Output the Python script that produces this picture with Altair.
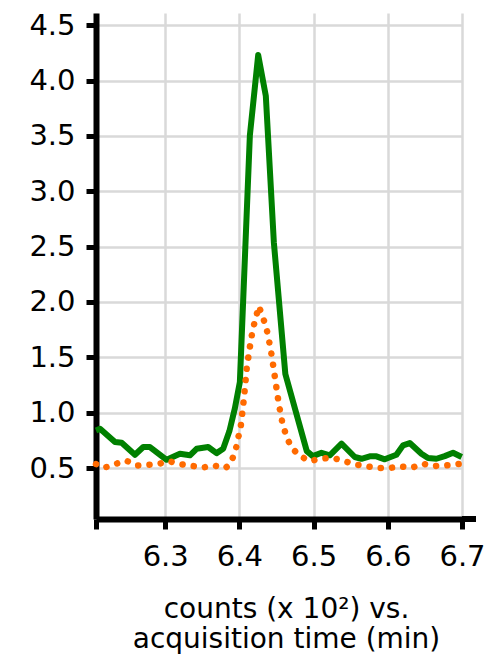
import altair as alt
import pandas as pd

# Green (solid) trace: acquisition time (min), counts (x 10^2)
green_t = [6.2067, 6.2121, 6.2323, 6.2413, 6.2592, 6.2704, 6.2794, 6.3019, 6.3198,
           6.3333, 6.3423, 6.3579, 6.3692, 6.3781, 6.3865, 6.3939, 6.4006, 6.4141,
           6.4253, 6.4356, 6.4464, 6.4619, 6.4908, 6.4989, 6.5106, 6.5218, 6.5376,
           6.5555, 6.5645, 6.5757, 6.5847, 6.5959, 6.6116, 6.6205, 6.6296, 6.6453,
           6.6542, 6.6655, 6.6767, 6.6879, 6.6996]
green_v = [0.84, 0.855, 0.735, 0.728, 0.62, 0.69, 0.69, 0.575, 0.629,
           0.615, 0.674, 0.69, 0.635, 0.674, 0.834, 1.04, 1.277, 3.506,
           4.23, 3.86, 2.54, 1.349, 0.653, 0.608, 0.638, 0.615, 0.72,
           0.6, 0.584, 0.606, 0.606, 0.579, 0.62, 0.705, 0.726, 0.629,
           0.59, 0.584, 0.608, 0.638, 0.6]

# Orange (dotted) trace
orange_t = [6.2067, 6.2178, 6.2471, 6.2619, 6.2902, 6.305, 6.3198, 6.3508, 6.3656,
            6.3811, 6.3885, 6.3952, 6.402, 6.406, 6.41, 6.4147, 6.4181, 6.4262,
            6.4343, 6.4383, 6.4437, 6.4531, 6.4585, 6.4639, 6.4693, 6.4801, 6.4949,
            6.5097, 6.5245, 6.5393, 6.5555, 6.5865, 6.6013, 6.6174, 6.6323, 6.6471,
            6.6619, 6.6774, 6.6929, 6.6996]
orange_v = [0.536, 0.503, 0.568, 0.523, 0.536, 0.563, 0.536, 0.505, 0.523,
            0.5, 0.545, 0.672, 0.888, 1.123, 1.412, 1.62, 1.755, 1.962,
            1.81, 1.71, 1.51, 1.078, 0.888, 0.78, 0.694, 0.615, 0.563,
            0.584, 0.593, 0.568, 0.533, 0.5, 0.5, 0.515, 0.503, 0.539,
            0.518, 0.523, 0.536, 0.54]

x_domain = [6.2067, 6.7]
y_domain = [0.04, 4.61]
x_ticks = [6.2067, 6.3, 6.4, 6.5, 6.6, 6.7]
y_ticks = [0.5, 1.0, 1.5, 2.0, 2.5, 3.0, 3.5, 4.0, 4.5]
x_title = ["counts (x 10\u00b2) vs.", "acquisition time (min)"]

df_g = pd.DataFrame({"t": green_t, "v": green_v})
df_o = pd.DataFrame({"t": orange_t, "v": orange_v})

FONT = "DejaVu Sans"

x_enc = alt.X(
    "t:Q",
    scale=alt.Scale(domain=x_domain, nice=False, zero=False),
    axis=alt.Axis(
        values=x_ticks,
        labelExpr="datum.value < 6.25 ? '' : format(datum.value, '.1f')",
        title=x_title,
        labelPadding=13,
        titleX=190,
        titleY=98,
        titleAlign="center",
        titleBaseline="alphabetic",
        titleLineHeight=30,
        labelFlush=False,
        labelOverlap=False,
    ),
)
y_enc = alt.Y(
    "v:Q",
    scale=alt.Scale(domain=y_domain, nice=False, zero=False),
    axis=alt.Axis(values=y_ticks, format=".1f", title=None, labelPadding=11,
                  labelFlush=False, labelOverlap=False),
)

green = alt.Chart(df_g).mark_line(
    color="#008000", strokeWidth=6, strokeJoin="round"
).encode(x=x_enc, y=y_enc)

orange = alt.Chart(df_o).mark_line(
    color="#ff6a00", strokeWidth=6.5, strokeDash=[0.1, 11.2], strokeCap="round",
    strokeJoin="round"
).encode(x=x_enc, y=y_enc)

axis_ext = alt.Chart(df_g).mark_rule(color="black", strokeWidth=6).encode(
    x=alt.value(366), x2=alt.value(380), y=alt.value(506)
)

chart = alt.layer(green, orange, axis_ext).properties(
    width=366,
    height=506,
    autosize=alt.AutoSizeParams(type="none"),
    padding={"left": 88, "top": 5, "right": 25, "bottom": 141},
).configure_view(stroke=None).configure_axis(
    domainColor="black",
    domainWidth=6,
    tickColor="black",
    tickWidth=5,
    tickSize=10,
    gridColor="#d9d9d9",
    gridWidth=2.5,
    labelFont=FONT,
    labelFontSize=29,
    labelColor="black",
    titleFont=FONT,
    titleFontSize=28,
    titleColor="black",
    titleFontWeight="normal",
)

chart.save("out.html", embed_options={"renderer": "svg", "actions": False})
